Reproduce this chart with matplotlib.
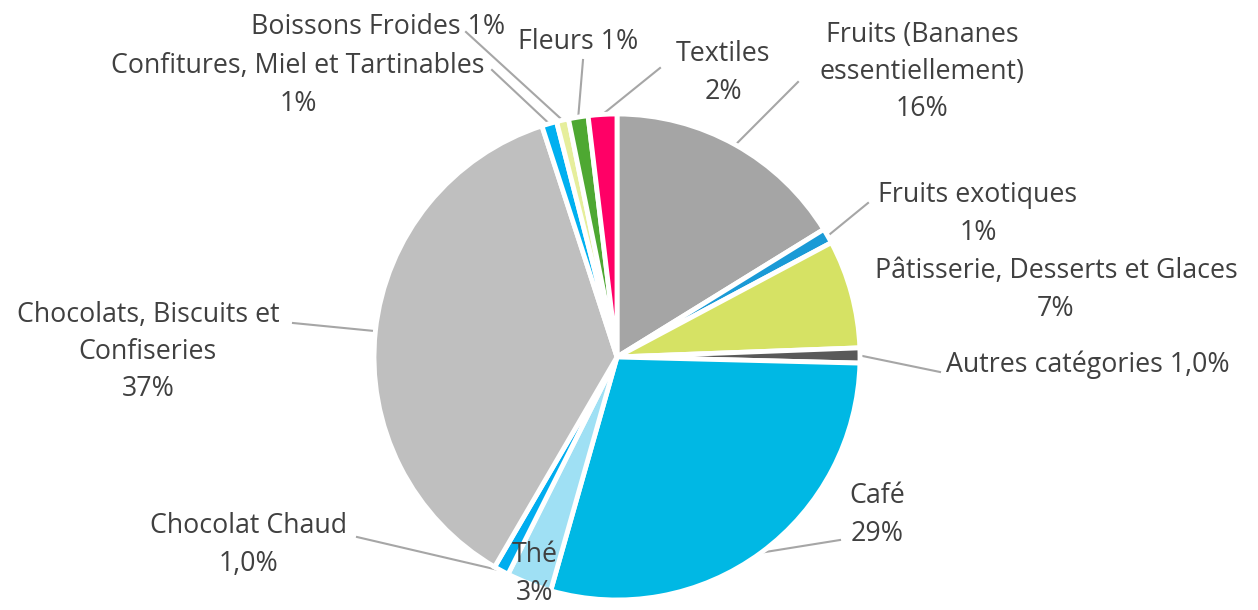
import matplotlib
import numpy as np

matplotlib.use("Agg")
import matplotlib.pyplot as plt

labels = [
    "Fruits (Bananes\nessentiellement)\n16%",
    "Fruits exotiques\n1%",
    "Pâtisserie, Desserts et Glaces\n7%",
    "Autres catégories 1,0%",
    "Café\n29%",
    "Thé\n3%",
    "Chocolat Chaud\n1,0%",
    "Chocolats, Biscuits et\nConfiseries\n37%",
    "Confitures, Miel et Tartinables\n1%",
    "Boissons Froides 1%",
    "Fleurs 1%",
    "Textiles\n2%",
]
values = [16.2, 1.0, 7.2, 1.0, 29.0, 3.0, 1.0, 36.6, 1.0, 0.8, 1.3, 1.9]
colors = ["#A5A5A5", "#1A9AD6", "#D6E264", "#595959", "#00B8E4", "#9FE0F4",
          "#00ADEF", "#BFBFBF", "#00B0F0", "#E6EE9C", "#4EA832", "#FF0066"]

# label anchor (text centre) and leader end point, in pixels from top-left
label_pos = [(922, 72), (978, 214), (1056, 290), (1088, 365), (877, 515), (535, 574),
             (249, 545), (148, 352), (298, 85), (378, 27), (578, 42), (723, 73)]
leader_end = [(798, 82), (868, 203), None, (940, 372), (840, 540), None,
              (357, 537), (293, 323), (492, 70), (466, 32), (583, 60), (660, 68)]

W, H = 1258, 610
CX, CY, R = 617, 357, 243
INK = "#404040"

fig = plt.figure(figsize=(W / 100, H / 100), dpi=100, facecolor="white")
ax = fig.add_axes([0, 0, 1, 1])

wedges, _ = ax.pie(values, colors=colors, startangle=90, counterclock=False,
                   center=(CX, H - CY), radius=R, frame=True,
                   wedgeprops=dict(edgecolor="white", linewidth=3.5))
ax.set_xlim(0, W)
ax.set_ylim(0, H)
ax.set_aspect("equal")
ax.axis("off")

for w, lab, (tx, ty), end in zip(wedges, labels, label_pos, leader_end):
    ax.text(tx, H - ty, lab, ha="center", va="center", fontsize=19.3, color=INK,
            family="Open Sans", linespacing=1.45)
    if end is None:
        continue
    mid = np.deg2rad((w.theta1 + w.theta2) / 2)
    ex, ey = CX + R * np.cos(mid), (H - CY) + R * np.sin(mid)
    ax.plot([ex, end[0]], [ey, H - end[1]], color="#A6A6A6", lw=1.5, zorder=0)

fig.savefig("out.png", dpi=100)
plt.close(fig)
